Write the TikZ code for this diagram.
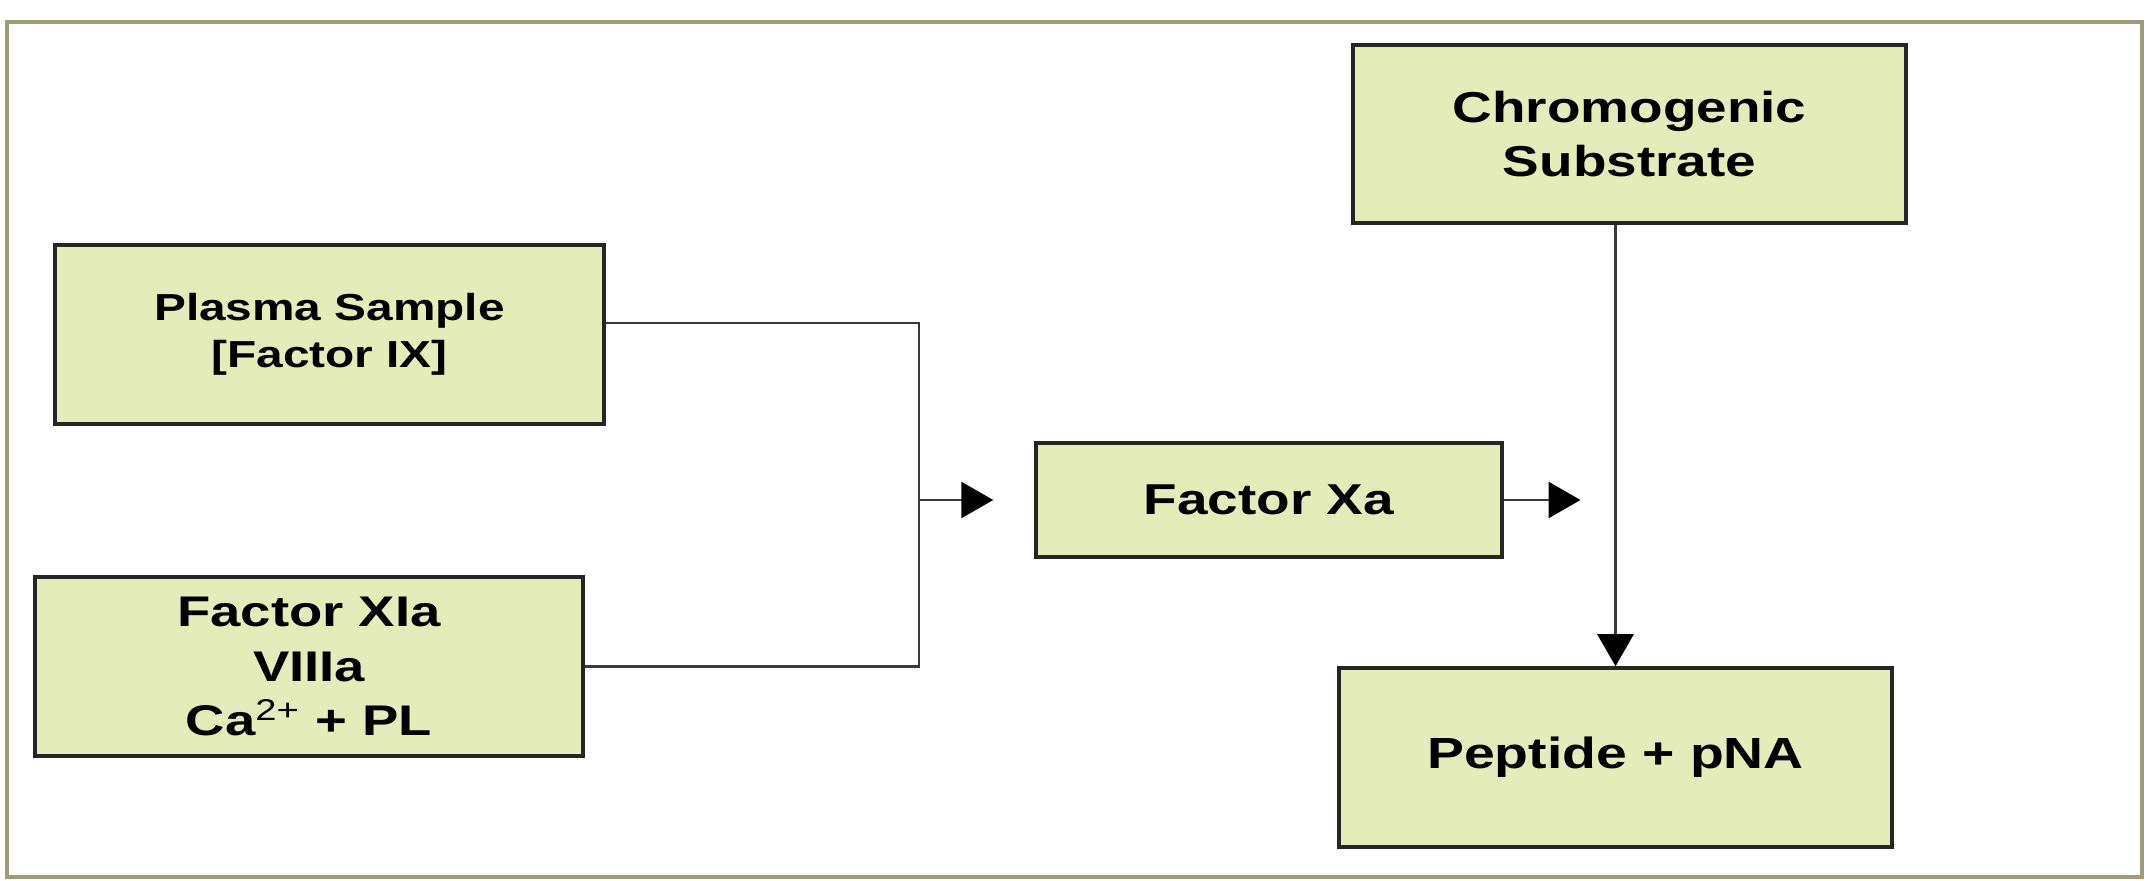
\documentclass[tikz,border=0pt]{standalone}
\usepackage{fontspec}
\setmainfont{Liberation Sans}[FakeStretch=1.27]
\usepackage{tikz}
\usetikzlibrary{arrows.meta}
\definecolor{boxfill}{RGB}{228,236,186}
\definecolor{framecol}{RGB}{160,156,122}
\definecolor{linecol}{RGB}{58,58,58}

\begin{document}
\begin{tikzpicture}
  [box/.style = {draw = black!85, line width = 1pt, fill = boxfill, align = center, font = \bfseries},
   link/.style = {draw = linecol, line width = .8pt},
   head/.style = {-{Triangle[length = .32cm, width = .36cm, color = black]}}]
  \useasboundingbox (0,0) rectangle (21.51, 8.80);
  \draw[color = framecol, line width = 1pt] (.07, .03) rectangle (21.42, 8.58);
  \node[box, minimum width = 5.49cm, minimum height = 1.79cm, font = \bfseries\fontsize{10.7}{13.4}\selectfont] (plasma) at (3.295, 5.455) {Plasma Sample\\{}[Factor IX]};
  \node[box, minimum width = 5.48cm, minimum height = 1.79cm, font = \bfseries\fontsize{12.2}{15.6}\selectfont] (cofactors) at (3.09, 2.135) {Factor XIa\\VIIIa\\Ca\textsuperscript{\mdseries 2+} + PL};
  \node[box, minimum width = 4.66cm, minimum height = 1.14cm, font = \bfseries\fontsize{12.3}{15.6}\selectfont] (fxa) at (12.69, 3.80) {Factor Xa};
  \node[box, minimum width = 5.53cm, minimum height = 1.78cm, font = \bfseries\fontsize{12.3}{15.6}\selectfont] (chromo) at (16.295, 7.46) {Chromogenic\\Substrate};
  \node[box, minimum width = 5.53cm, minimum height = 1.79cm, font = \bfseries\fontsize{12.4}{15.6}\selectfont] (peptide) at (16.155, 1.225) {Peptide + pNA};
  \coordinate (join) at (9.19, 3.80);
  \coordinate (meet) at (peptide.north |- fxa.east);
  \draw[link] ([yshift = 1.15mm]plasma.east) -| (join) |- (cofactors.east);
  \draw[link, head] (join) -- ([xshift = -4.1mm]fxa.west);
  \draw[link, head] (fxa.east) -- ([xshift = -3.5mm]meet);
  \draw[link, head] (peptide.north |- chromo.south) -- (peptide.north);
\end{tikzpicture}
\end{document}
